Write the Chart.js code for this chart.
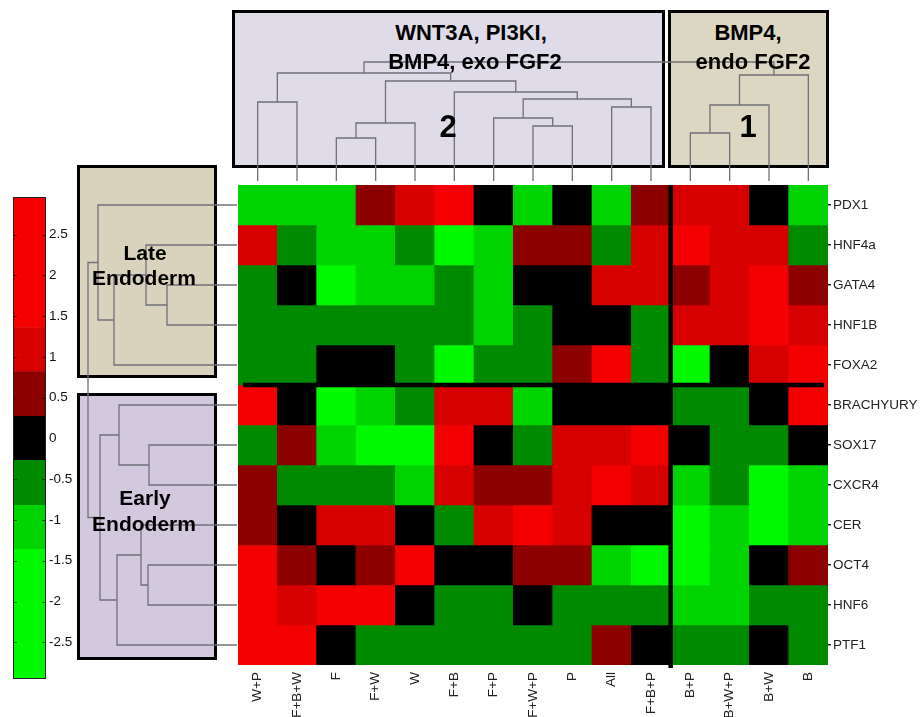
<!DOCTYPE html>
<html>
<head>
<meta charset="utf-8">
<title>Endoderm marker expression heatmap</title>
<script src="https://cdn.jsdelivr.net/npm/chart.js@4.4.0/dist/chart.umd.min.js"></script>
<style>
  html, body { margin: 0; padding: 0; background: #fff; }
  #stage { position: relative; width: 922px; height: 717px; overflow: hidden;
           font-family: "Liberation Sans", Arial, Helvetica, sans-serif; }
  .box { position: absolute; box-sizing: border-box; border: 3px solid #000; z-index: 1; }
  canvas { position: absolute; }
  .dendro { z-index: 2; }
  .plot { z-index: 2; }
  .lbl { position: absolute; z-index: 3; font-weight: bold; color: #000; text-align: center;
         white-space: nowrap; line-height: 1; width: 300px; }
</style>
</head>
<body>
<div id="stage">
  <!-- cluster boxes -->
  <div class="box" style="left:232px;top:10px;width:433px;height:158px;background:#e0dbe9"></div>
  <div class="box" style="left:668px;top:10px;width:161px;height:158px;background:#dcd7c2"></div>
  <div class="box" style="left:77px;top:165px;width:140px;height:213px;background:#d9d3bd"></div>
  <div class="box" style="left:77px;top:393px;width:140px;height:267px;background:#d3c9df"></div>

  <canvas id="colDendro" class="dendro" width="590" height="130" style="left:238px;top:51px"></canvas>
  <canvas id="rowDendro" class="dendro" width="155" height="480" style="left:82px;top:185px"></canvas>
  <canvas id="heatmap" class="plot" width="684" height="532" style="left:238px;top:185px"></canvas>
  <canvas id="colourbar" class="plot" width="67" height="482" style="left:13px;top:197px"></canvas>

  <!-- cluster captions -->
  <div class="lbl" style="left:321px;top:22px;font-size:22px">WNT3A, PI3KI,</div>
  <div class="lbl" style="left:325px;top:51px;font-size:22px">BMP4, exo FGF2</div>
  <div class="lbl" style="left:598px;top:22px;font-size:22px">BMP4,</div>
  <div class="lbl" style="left:603px;top:51px;font-size:22px">endo FGF2</div>
  <div class="lbl" style="left:298px;top:111px;font-size:31px">2</div>
  <div class="lbl" style="left:598px;top:111px;font-size:31px">1</div>
  <div class="lbl" style="left:-5px;top:242px;font-size:21px">Late</div>
  <div class="lbl" style="left:-6px;top:267px;font-size:21px">Endoderm</div>
  <div class="lbl" style="left:-5px;top:487px;font-size:21px">Early</div>
  <div class="lbl" style="left:-6px;top:513px;font-size:21px">Endoderm</div>
</div>

<script>
// Culture conditions (columns) and marker genes (rows)
const conditions = ['W+P', 'F+B+W', 'F', 'F+W', 'W', 'F+B', 'F+P', 'F+W+P', 'P', 'All', 'F+B+P', 'B+P', 'B+W+P', 'B+W', 'B'];
const genes = ['PDX1', 'HNF4a', 'GATA4', 'HNF1B', 'FOXA2', 'BRACHYURY', 'SOX17', 'CXCR4', 'CER', 'OCT4', 'HNF6', 'PTF1'];

// Relative expression (log scale) per gene, in column order
const pdx1      = [-1, -1, -1, 0.5, 1, 2, 0, -1, 0, -1, 0.5, 1, 1, 0, -1];
const hnf4a     = [1, -0.5, -1, -1, -0.5, -2, -1, 0.5, 0.5, -0.5, 1, 2, 1, 1, -0.5];
const gata4     = [-0.5, 0, -2, -1, -1, -0.5, -1, 0, 0, 1, 1, 0.5, 1, 2, 0.5];
const hnf1b     = [-0.5, -0.5, -0.5, -0.5, -0.5, -0.5, -1, -0.5, 0, 0, -0.5, 1, 1, 2, 1];
const foxa2     = [-0.5, -0.5, 0, 0, -0.5, -2, -0.5, -0.5, 0.5, 2, -0.5, -2, 0, 1, 2];
const brachyury = [2, 0, -2, -1, -0.5, 1, 1, -1, 0, 0, 0, -0.5, -0.5, 0, 2];
const sox17     = [-0.5, 0.5, -1, -2, -2, 2, 0, -0.5, 1, 1, 2, 0, -0.5, -0.5, 0];
const cxcr4     = [0.5, -0.5, -0.5, -0.5, -1, 1, 0.5, 0.5, 1, 2, 1, -1, -0.5, -2, -1];
const cer       = [0.5, 0, 1, 1, 0, -0.5, 1, 2, 1, 0, 0, -2, -1, -2, -1];
const oct4      = [2, 0.5, 0, 0.5, 2, 0, 0, 0.5, 0.5, -1, -2, -2, -1, 0, 0.5];
const hnf6      = [2, 1, 2, 2, 0, -0.5, -0.5, 0, -0.5, -0.5, -0.5, -1, -1, -0.5, -0.5];
const ptf1      = [2, 2, 0, -0.5, -0.5, -0.5, -0.5, -0.5, -0.5, 0.5, 0, -0.5, -0.5, 0, -0.5];
const expression = [pdx1, hnf4a, gata4, hnf1b, foxa2, brachyury, sox17, cxcr4, cer, oct4, hnf6, ptf1];

// Discrete colour scale: bin edges and the colour of each bin
const colourEdges = [-2.95, -1.36, -0.82, -0.27, 0.27, 0.82, 1.36, 2.96];
const colourBins  = ['#00f800', '#00d400', '#008a00', '#000000', '#8c0000', '#d60000', '#f40000'];
const colourTicks = [-2.5, -2, -1.5, -1, -0.5, 0, 0.5, 1, 1.5, 2, 2.5];

// Hierarchical clustering (linkage rows: childA, childB, merge height);
// ids below the leaf count are leaves, larger ids refer to earlier merges.
const conditionLinkage = [
  [0, 1, 7.9], [2, 3, 4.3], [16, 4, 5.8], [7, 8, 5.5], [6, 18, 6.3],
  [9, 10, 7.4], [19, 20, 8.2], [5, 21, 8.9], [17, 22, 10.0], [15, 23, 10.8],
  [11, 12, 4.8], [25, 13, 7.6], [26, 14, 10.6], [24, 27, 11.9]
];
const geneLinkage = [
  [2, 3, 7.0], [1, 12, 9.1], [13, 4, 12.3], [0, 14, 13.9],
  [6, 7, 8.8], [5, 16, 11.8], [9, 10, 8.9], [8, 18, 9.6], [19, 11, 12.0],
  [17, 20, 13.7], [15, 21, 14.9]
];

// Cluster split positions (first index of the second group)
const columnBreaks = [11];
const rowBreaks = [5];

const FONT = '"Liberation Sans", Arial, Helvetica, sans-serif';
const LINE = '#707078';

function colourFor(v) {
  for (let i = 0; i < colourBins.length; i++) {
    if (v < colourEdges[i + 1]) return colourBins[i];
  }
  return colourBins[colourBins.length - 1];
}

function dendrogramBrackets(linkage, nLeaves) {
  const pos = [], ht = [];
  for (let i = 0; i < nLeaves; i++) { pos[i] = i; ht[i] = 0; }
  return linkage.map(([a, b, h], k) => {
    const id = nLeaves + k;
    pos[id] = (pos[a] + pos[b]) / 2;
    ht[id] = h;
    return [[pos[a], ht[a]], [pos[a], h], [pos[b], h], [pos[b], ht[b]]];
  });
}

const baseOpts = {
  responsive: false,
  animation: false,
  events: [],
  layout: { padding: 0 },
  plugins: { legend: { display: false }, tooltip: { enabled: false } }
};

function lineSet(points) {
  return { data: points, showLine: true, borderColor: LINE, borderWidth: 1.3,
           pointRadius: 0, fill: false, tension: 0 };
}

// Column dendrogram (above the heatmap)
const colBrackets = dendrogramBrackets(conditionLinkage, conditions.length);
new Chart(document.getElementById('colDendro'), {
  type: 'scatter',
  data: { datasets: colBrackets.map(b => lineSet(b.map(([p, h]) => ({ x: p, y: h })))) },
  options: Object.assign({}, baseOpts, {
    scales: {
      x: { type: 'linear', display: false, min: -0.5, max: conditions.length - 0.5 },
      y: { type: 'linear', display: false, min: 0, max: 13 }
    }
  })
});

// Row dendrogram (left of the heatmap)
const rowBrackets = dendrogramBrackets(geneLinkage, genes.length);
new Chart(document.getElementById('rowDendro'), {
  type: 'scatter',
  data: { datasets: rowBrackets.map(b => lineSet(b.map(([p, h]) => ({ x: h, y: p })))) },
  options: Object.assign({}, baseOpts, {
    scales: {
      x: { type: 'linear', display: false, min: 0, max: 15.5, reverse: true },
      y: { type: 'linear', display: false, min: -0.5, max: genes.length - 0.5, reverse: true }
    }
  })
});

// Heatmap: one floating-bar dataset per gene row
const separators = {
  id: 'separators',
  afterDatasetsDraw(chart) {
    const { ctx, chartArea: a, scales: { x, y } } = chart;
    ctx.save();
    ctx.fillStyle = '#000';
    columnBreaks.forEach(c => {
      const px = (x.getPixelForValue(c - 1) + x.getPixelForValue(c)) / 2;
      ctx.fillRect(px - 2.25, a.top, 4.5, a.bottom - a.top + 3);
    });
    rowBreaks.forEach(r => {
      const py = y.getPixelForValue(r);
      ctx.fillRect(a.left + 5, py - 2.25, a.right - a.left - 9, 4.5);
    });
    ctx.restore();
  }
};

new Chart(document.getElementById('heatmap'), {
  type: 'bar',
  data: {
    labels: conditions,
    datasets: genes.map((g, r) => ({
      label: g,
      data: conditions.map(() => [r, r + 1]),
      backgroundColor: expression[r].map(colourFor),
      borderWidth: 0,
      grouped: false,
      barPercentage: 1,
      categoryPercentage: 1
    }))
  },
  options: Object.assign({}, baseOpts, {
    scales: {
      x: {
        type: 'category', offset: true,
        ticks: { autoSkip: false, minRotation: 90, maxRotation: 90, padding: 7,
                 color: '#222', font: { family: FONT, size: 13.5 } },
        grid: { display: false, drawTicks: false },
        border: { display: false },
        afterFit: s => { s.height = 52; s.paddingLeft = 0; s.paddingRight = 0; }
      },
      y: {
        type: 'linear', position: 'right', min: 0, max: genes.length, reverse: true, bounds: 'data',
        afterBuildTicks: s => { s.ticks = genes.map((g, i) => ({ value: i + 0.5 })); },
        ticks: { autoSkip: false, padding: 2, color: '#222', font: { family: FONT, size: 13.5 },
                 callback: (v, i) => genes[i] },
        grid: { drawOnChartArea: false, drawTicks: true, tickLength: 3, color: '#222', lineWidth: 1.5 },
        border: { display: false },
        afterFit: s => { s.width = 94; s.paddingTop = 0; s.paddingBottom = 0; }
      }
    }
  }),
  plugins: [separators]
});

// Colour bar
const barFrame = {
  id: 'barFrame',
  afterDraw(chart) {
    const { ctx, chartArea: a, scales: { y } } = chart;
    ctx.save();
    ctx.strokeStyle = 'rgba(0,0,0,0.55)';
    ctx.lineWidth = 1;
    y.ticks.forEach(t => {
      const py = Math.round(y.getPixelForValue(t.value)) + 0.5;
      ctx.beginPath();
      ctx.moveTo(a.left, py); ctx.lineTo(a.left + 4, py);
      ctx.moveTo(a.right - 4, py); ctx.lineTo(a.right, py);
      ctx.stroke();
    });
    ctx.strokeStyle = '#222';
    ctx.strokeRect(a.left + 0.5, a.top + 0.5, a.right - a.left - 1, a.bottom - a.top - 1);
    ctx.restore();
  }
};

new Chart(document.getElementById('colourbar'), {
  type: 'bar',
  data: {
    labels: [''],
    datasets: colourBins.map((c, i) => ({
      data: [[colourEdges[i], colourEdges[i + 1]]],
      backgroundColor: c,
      borderWidth: 0,
      grouped: false,
      barPercentage: 1,
      categoryPercentage: 1
    }))
  },
  options: Object.assign({}, baseOpts, {
    scales: {
      x: { display: false },
      y: {
        type: 'linear', position: 'right', min: colourEdges[0], max: colourEdges[colourEdges.length - 1],
        bounds: 'data',
        afterBuildTicks: s => { s.ticks = colourTicks.map(v => ({ value: v })); },
        ticks: { padding: 3, color: '#111', font: { family: FONT, size: 13.5 },
                 callback: v => String(v) },
        grid: { display: false, drawTicks: false },
        border: { display: false },
        afterFit: s => { s.width = 34; s.paddingTop = 0; s.paddingBottom = 0; }
      }
    }
  }),
  plugins: [barFrame]
});
</script>
</body>
</html>
